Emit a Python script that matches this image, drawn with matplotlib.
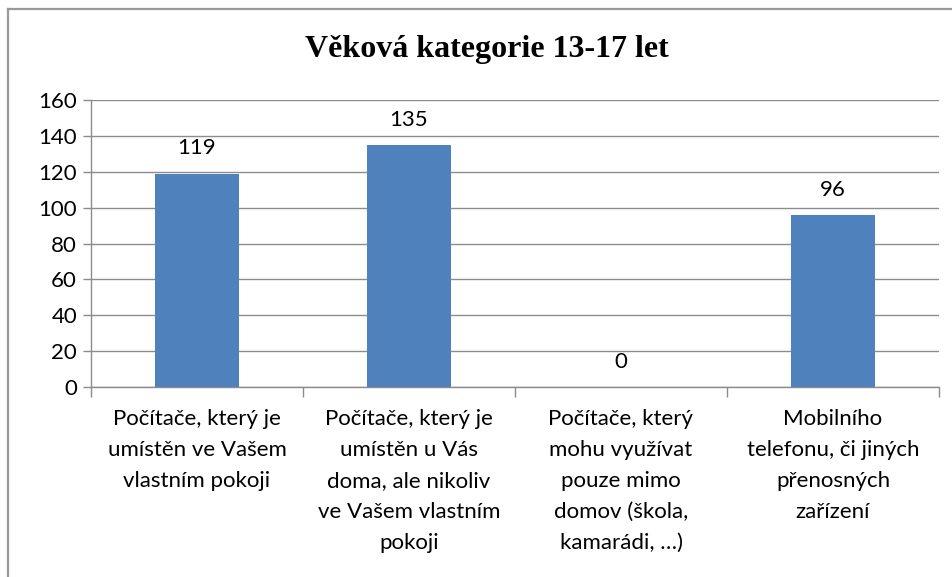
import numpy as np
import matplotlib
matplotlib.use("Agg")
from matplotlib import pyplot as plt
from matplotlib.lines import Line2D

title = "Věková kategorie 13-17 let"
kategorie = ["Počítače, který je\numístěn ve Vašem\nvlastním pokoji",
             "Počítače, který je\numístěn u Vás\ndoma, ale nikoliv\nve Vašem vlastním\npokoji",
             "Počítače, který\nmohu využívat\npouze mimo\ndomov (škola,\nkamarádi, …)",
             "Mobilního\ntelefonu, či jiných\npřenosných\nzařízení"]
hodnoty = [119, 135, 0, 96]
yticks = [0, 20, 40, 60, 80, 100, 120, 140, 160]

plt.rcParams['font.family'] = ['Lato', 'DejaVu Sans']
seda = "#8c8c8c"
fs = 16

fig = plt.figure(figsize=(9.53, 5.77), dpi=100)
ax = fig.add_axes([91/953, 190/577, 848/953, 287/577])

x = np.arange(len(hodnoty))
bars = ax.bar(x, hodnoty, width=0.4, color="#4f81bd", zorder=3)
ax.bar_label(bars, labels=[str(v) for v in hodnoty], padding=11, fontsize=fs)

ax.set_xlim(-0.5, len(hodnoty) - 0.5)
ax.set_ylim(0, 160)
ax.set_yticks(yticks)
ax.set_yticklabels([str(t) for t in yticks], fontsize=fs)
ax.yaxis.grid(True, color=seda, linewidth=1.0, zorder=0)
ax.tick_params(axis="y", length=6, width=1.0, color=seda, pad=4)

ax.set_xticks(x)
ax.set_xticklabels(kategorie, fontsize=fs, linespacing=1.68, va="top")
ax.set_xticks(np.arange(-0.5, len(hodnoty)), minor=True)
ax.tick_params(axis="x", which="major", length=0, pad=16)
ax.tick_params(axis="x", which="minor", length=7, width=1.0, color=seda)

for s in ["top", "right"]:
    ax.spines[s].set_visible(False)
for s in ["left", "bottom"]:
    ax.spines[s].set_color(seda)
    ax.spines[s].set_linewidth(1.0)

fig.text(487/953, 1 - 50/577, title, ha="center", va="center",
         fontsize=23, fontweight="bold", family="Liberation Serif")

# ramecek grafu
fig.add_artist(Line2D([8/953, 1.0], [1 - 9/577, 1 - 9/577], color="#999999", linewidth=1.6))
fig.add_artist(Line2D([8/953, 8/953], [0, 1 - 9/577], color="#999999", linewidth=1.6))

plt.savefig("out.png", dpi=100)
